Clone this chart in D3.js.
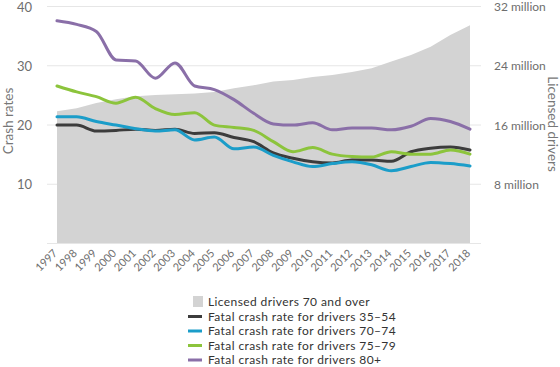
<!DOCTYPE html>
<meta charset="utf-8">
<style>
  body { margin: 0; background: #fff; }
  svg text { font-family: Lato, "Open Sans", sans-serif; }
  .grid line { stroke: #e6e6e6; stroke-width: 1px; }
  .tick-label { fill: #6e6e6e; font-size: 13px; }
  .rlabel { fill: #6e6e6e; font-size: 12px; }
  .xlabel { fill: #6e6e6e; font-size: 11px; }
  .axis-title { fill: #777; font-size: 13.5px; }
  .legend text { fill: #333; font-size: 12px; letter-spacing: 0.4px; }
  .rate { fill: none; stroke-width: 3px; stroke-linejoin: round; stroke-linecap: round; }
</style>
<body>
<script src="https://d3js.org/d3.v7.min.js"></script>
<script>
// years on the x axis
var years = d3.range(1997, 2019);

// licensed drivers 70 and over, millions
var licensed = [17.8, 18.2, 18.9, 19.4, 19.8, 20.0, 20.1, 20.2, 20.4, 20.9, 21.3,
                21.8, 22.0, 22.4, 22.7, 23.1, 23.6, 24.5, 25.4, 26.5, 28.1, 29.4];

// fatal crash rates per group
var rate3554 = [19.9, 19.9, 18.9, 19.0, 19.2, 19.0, 19.2, 18.5, 18.6, 17.8, 17.1,
                15.2, 14.3, 13.7, 13.5, 14.0, 14.0, 13.8, 15.4, 16.0, 16.2, 15.7];
var rate7074 = [21.3, 21.3, 20.5, 19.9, 19.3, 18.9, 19.1, 17.4, 17.9, 15.9, 16.2,
                14.8, 13.7, 12.9, 13.4, 13.7, 13.2, 12.2, 12.9, 13.6, 13.4, 13.0];
var rate7579 = [26.5, 25.5, 24.7, 23.6, 24.6, 22.7, 21.7, 22.0, 19.9, 19.5, 19.0,
                17.1, 15.4, 16.1, 15.0, 14.6, 14.5, 15.4, 15.0, 15.0, 15.7, 15.0];
var rate80 =   [37.5, 36.9, 35.7, 30.9, 30.7, 27.8, 30.4, 26.5, 25.9, 24.2, 21.9,
                20.1, 19.9, 20.3, 19.1, 19.4, 19.4, 19.1, 19.7, 21.0, 20.5, 19.2];

var leftTicks = [10, 20, 30, 40];
var rightTicks = [8, 16, 24, 32];

var series = [
  {name: "Fatal crash rate for drivers 35\u201354", values: rate3554, color: "#3c3c3c"},
  {name: "Fatal crash rate for drivers 70\u201374", values: rate7074, color: "#1b9dc9"},
  {name: "Fatal crash rate for drivers 75\u201379", values: rate7579, color: "#8cc43c"},
  {name: "Fatal crash rate for drivers 80+", values: rate80, color: "#8a6fa8"}
];

var width = 560, height = 367;
var svg = d3.select("body").append("svg")
    .attr("width", width)
    .attr("height", height);

var x = d3.scaleLinear().domain([1997, 2018]).range([57, 470]);
var yL = d3.scaleLinear().domain([0, 40]).range([243, 6]);
var yR = d3.scaleLinear().domain([0, 32]).range([243, 6]);

// gridlines
svg.append("g").attr("class", "grid")
  .selectAll("line")
  .data([0].concat(leftTicks))
  .enter().append("line")
  .attr("x1", 47).attr("x2", 481)
  .attr("y1", function(d) { return yL(d) + 0.5; })
  .attr("y2", function(d) { return yL(d) + 0.5; });

// licensed drivers area
var area = d3.area()
  .x(function(d, i) { return x(years[i]); })
  .y0(yR(0))
  .y1(function(d) { return yR(d); });

svg.append("path")
  .datum(licensed)
  .attr("fill", "#d3d3d3")
  .attr("d", area);

// crash rate lines
var line = d3.line()
  .curve(d3.curveMonotoneX)
  .x(function(d, i) { return x(years[i]); })
  .y(function(d) { return yL(d); });

svg.selectAll(".rate")
  .data(series)
  .enter().append("path")
  .attr("class", "rate")
  .attr("stroke", function(d) { return d.color; })
  .attr("d", function(d) { return line(d.values); });

// left axis labels
svg.selectAll(".lt")
  .data(leftTicks)
  .enter().append("text")
  .attr("class", "tick-label")
  .attr("x", 32)
  .attr("y", function(d) { return yL(d) + 1; })
  .attr("dy", "0.35em")
  .attr("text-anchor", "end")
  .text(function(d) { return d; });

// right axis labels
svg.selectAll(".rt")
  .data(rightTicks)
  .enter().append("text")
  .attr("class", "rlabel")
  .attr("x", 494)
  .attr("y", function(d) { return yR(d) + 1; })
  .attr("dy", "0.35em")
  .text(function(d) { return d + " million"; });

// x labels
svg.selectAll(".xl")
  .data(years)
  .enter().append("text")
  .attr("class", "xlabel")
  .attr("text-anchor", "end")
  .attr("transform", function(d) { return "translate(" + (x(d) + 1) + ",254) rotate(-45)"; })
  .text(function(d) { return d; });

// axis titles
svg.append("text")
  .attr("class", "axis-title")
  .attr("text-anchor", "middle")
  .attr("transform", "translate(13,121) rotate(-90)")
  .text("Crash rates");

svg.append("text")
  .attr("class", "axis-title")
  .attr("text-anchor", "middle")
  .attr("transform", "translate(548,124) rotate(90)")
  .text("Licensed drivers");

// legend
var legend = svg.append("g").attr("class", "legend")
  .attr("transform", "translate(187,302)");

legend.append("rect")
  .attr("x", 6).attr("y", -6)
  .attr("width", 10).attr("height", 11)
  .attr("fill", "#d3d3d3");
legend.append("text")
  .attr("x", 21).attr("dy", "0.35em")
  .text("Licensed drivers 70 and over");

var item = legend.selectAll(".item")
  .data(series)
  .enter().append("g")
  .attr("transform", function(d, i) { return "translate(0," + (14.5 * (i + 1)) + ")"; });

item.append("line")
  .attr("x1", 1).attr("x2", 15)
  .attr("stroke", function(d) { return d.color; })
  .attr("stroke-width", 3);
item.append("text")
  .attr("x", 21).attr("dy", "0.35em")
  .text(function(d) { return d.name; });
</script>
</body>
